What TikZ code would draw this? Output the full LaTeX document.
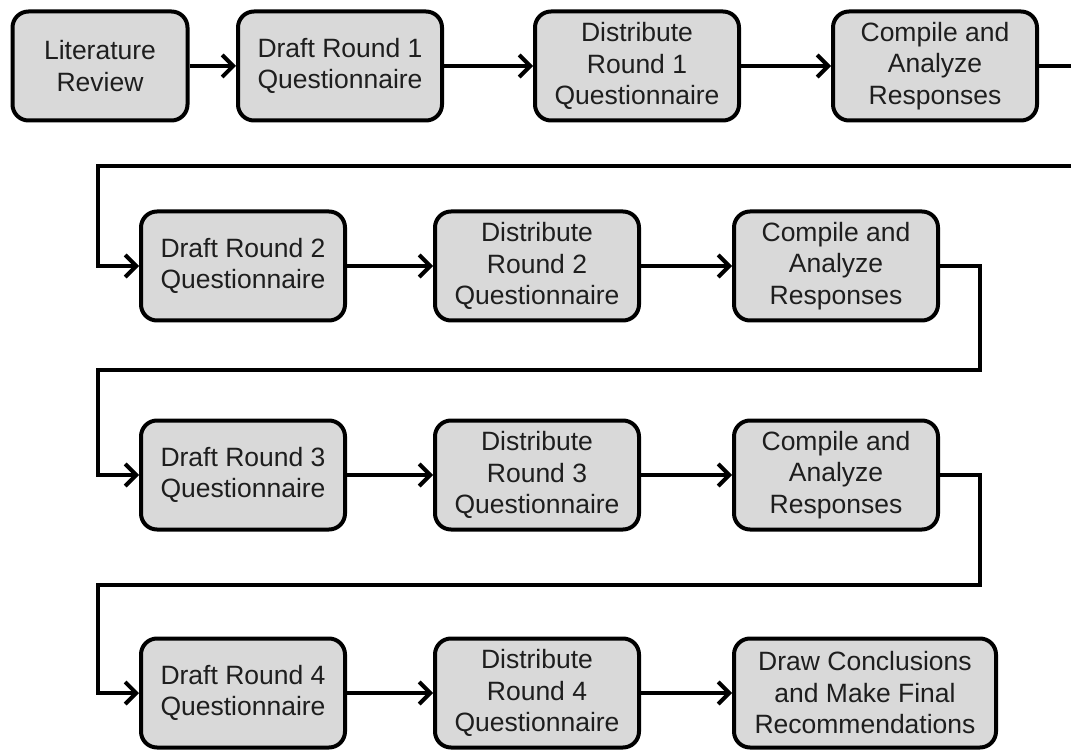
\documentclass[tikz,border=0pt]{standalone}
\usepackage{fontspec}
\setmainfont{Liberation Sans}
\usetikzlibrary{arrows.meta}
\definecolor{boxgray}{HTML}{D9D9D9}
\definecolor{textgray}{HTML}{1E1E1E}

\begin{document}
\begin{tikzpicture}[x=1pt, y=-1pt,
    stage/.style={draw, fill=boxgray, line width=4pt, rounded corners=16pt,
        minimum width=204pt, minimum height=109pt, align=center, text=textgray,
        font=\fontsize{26.5}{31.5}\selectfont},
    flow/.style={line width=4pt, -{Straight Barb[length=11pt, width=22pt]}},
    link/.style={line width=4pt}]
    \useasboundingbox (0,0) rectangle (1071,751);

    \begin{scope}
        \node[stage, minimum width=175pt] (litrev) at (100,66) {Literature\\Review};
        \node[stage] (draft1) at (340,66) {Draft Round 1\\Questionnaire};
        \node[stage] (dist1) at (637,66) {Distribute\\Round 1\\Questionnaire};
        \node[stage] (comp1) at (935,66) {Compile and\\Analyze\\Responses};

        \draw[flow] (litrev.east) -- (draft1.west);
        \draw[flow] (draft1.east) -- (dist1.west);
        \draw[flow] (dist1.east) -- (comp1.west);
        \coordinate (edge1) at (1071,66);
        \draw[link] (comp1.east) -- (edge1);
    \end{scope}

    \begin{scope}
        \node[stage] (draft2) at (243,266) {Draft Round 2\\Questionnaire};
        \node[stage] (dist2) at (537,266) {Distribute\\Round 2\\Questionnaire};
        \node[stage] (comp2) at (836,266) {Compile and\\Analyze\\Responses};

        \draw[flow] (draft2.east) -- (dist2.west);
        \draw[flow] (dist2.east) -- (comp2.west);
    \end{scope}

    \begin{scope}
        \node[stage] (draft3) at (243,475) {Draft Round 3\\Questionnaire};
        \node[stage] (dist3) at (537,475) {Distribute\\Round 3\\Questionnaire};
        \node[stage] (comp3) at (836,475) {Compile and\\Analyze\\Responses};

        \draw[flow] (draft3.east) -- (dist3.west);
        \draw[flow] (dist3.east) -- (comp3.west);
    \end{scope}

    \begin{scope}
        \node[stage] (draft4) at (243,693) {Draft Round 4\\Questionnaire};
        \node[stage] (dist4) at (537,693) {Distribute\\Round 4\\Questionnaire};
        \node[stage, minimum width=262pt] (concl) at (865,693) {Draw Conclusions\\and Make Final\\Recommendations};

        \draw[flow] (draft4.east) -- (dist4.west);
        \draw[flow] (dist4.east) -- (concl.west);
    \end{scope}

    \coordinate (edge2) at (1071,166);
    \coordinate (turn1) at (98,166);
    \draw[flow] (edge2) -- (turn1) |- (draft2.west);

    \coordinate (bend2) at (980,370);
    \coordinate (turn2) at (98,370);
    \draw[flow] (comp2.east) -| (bend2) -- (turn2) |- (draft3.west);

    \coordinate (bend3) at (980,585);
    \coordinate (turn3) at (98,585);
    \draw[flow] (comp3.east) -| (bend3) -- (turn3) |- (draft4.west);
\end{tikzpicture}
\end{document}
